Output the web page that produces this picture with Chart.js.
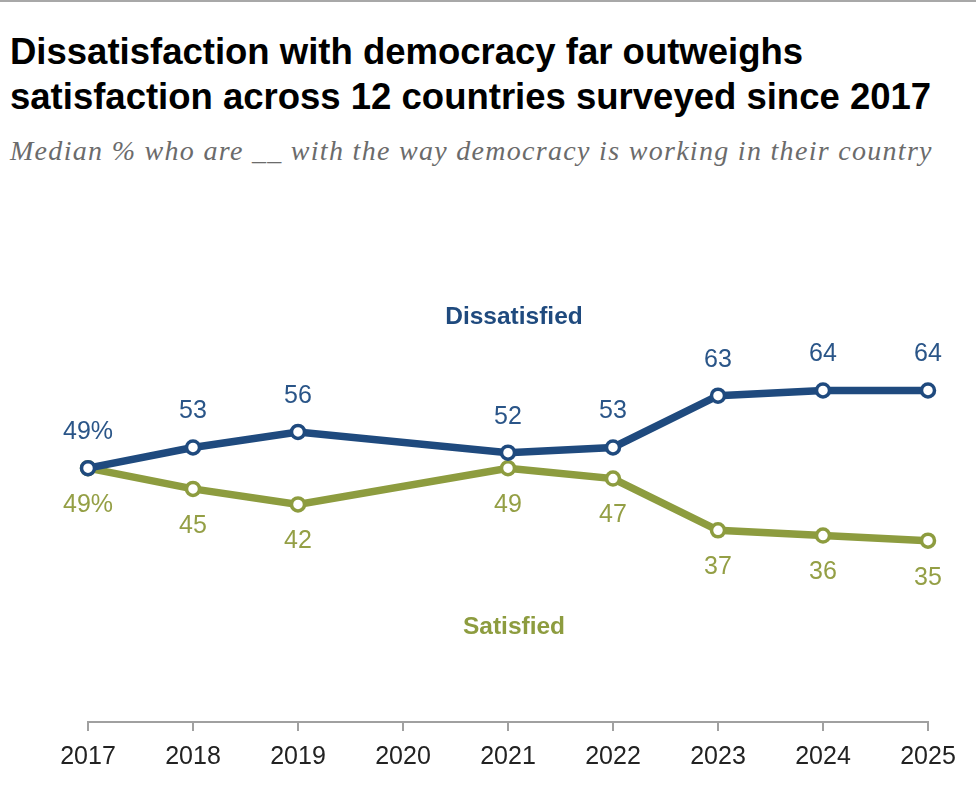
<!DOCTYPE html>
<html>
<head>
<meta charset="utf-8">
<script src="https://cdn.jsdelivr.net/npm/chart.js@4/dist/chart.umd.min.js"></script>
<style>
  html, body { margin: 0; padding: 0; background: #fff; }
  #wrap { position: relative; width: 980px; height: 810px; overflow: hidden; }
  #topline { position: absolute; left: 0; top: 0; width: 976px; height: 2px; background: #a8a8a8; }
  #title { position: absolute; left: 10px; top: 29px; font-family: "Liberation Sans", Arial, sans-serif; font-weight: bold; font-size: 36.5px; line-height: 45px; color: #000; white-space: nowrap; }
  #subtitle { position: absolute; left: 10px; top: 135px; font-family: "Liberation Serif", serif; font-style: italic; font-size: 28px; letter-spacing: 1.3px; color: #6b6b6b; white-space: nowrap; }
  canvas { position: absolute; left: 0; top: 0; }
</style>
</head>
<body>
<div id="wrap">
  <div id="topline"></div>
  <div id="title">Dissatisfaction with democracy far outweighs<br>satisfaction across 12 countries surveyed since 2017</div>
  <div id="subtitle">Median % who are __ with the way democracy is working in their country</div>
  <canvas id="c" width="980" height="810"></canvas>
</div>
<script>
const years = ["2017","2018","2019","2020","2021","2022","2023","2024","2025"];
const dissatisfied = [49, 53, 56, null, 52, 53, 63, 64, 64];
const satisfied = [49, 45, 42, null, 49, 47, 37, 36, 35];
const dissLabels = ["49%","53","56","","52","53","63","64","64"];
const satLabels = ["49%","45","42","","49","47","37","36","35"];

const BLUE = "#1f4a7e";
const GREEN = "#8d9c3f";
const BLUE_TXT = "#2a5588";
const GREEN_TXT = "#949f45";

const labelPlugin = {
  id: "labels",
  afterDatasetsDraw(chart) {
    const ctx = chart.ctx;
    const x = chart.scales.x;
    ctx.save();
    ctx.textAlign = "center";
    ctx.textBaseline = "middle";
    ctx.font = '25px "Liberation Sans", Arial, sans-serif';
    const sets = [[0, dissLabels, -36, BLUE_TXT], [1, satLabels, 37, GREEN_TXT]];
    sets.forEach(([di, labels, off, col]) => {
      const meta = chart.getDatasetMeta(di);
      ctx.fillStyle = col;
      meta.data.forEach((pt, i) => {
        if (!labels[i]) return;
        ctx.fillText(labels[i], pt.x, pt.y + off);
      });
    });
    ctx.font = 'bold 24.5px "Liberation Sans", Arial, sans-serif';
    const xc = x.getPixelForValue(4) + 6;
    ctx.fillStyle = BLUE;
    ctx.fillText("Dissatisfied", xc, 317);
    ctx.fillStyle = GREEN;
    ctx.fillText("Satisfied", xc, 627);
    ctx.restore();
  }
};

new Chart(document.getElementById("c"), {
  type: "line",
  data: {
    labels: years,
    datasets: [
      { data: dissatisfied, borderColor: BLUE, borderWidth: 7.5, pointRadius: 6.5, pointBorderWidth: 3.5,
        pointBackgroundColor: "#fff", pointBorderColor: BLUE, spanGaps: true, tension: 0 },
      { data: satisfied, borderColor: GREEN, borderWidth: 7.5, pointRadius: 6.5, pointBorderWidth: 3.5,
        pointBackgroundColor: "#fff", pointBorderColor: GREEN, spanGaps: true, tension: 0 }
    ]
  },
  options: {
    responsive: false,
    animation: false,
    devicePixelRatio: 1,
    layout: { padding: { left: 88, right: 52, top: 204, bottom: 27 } },
    plugins: { legend: { display: false }, tooltip: { enabled: false }, title: { display: false } },
    scales: {
      x: {
        offset: false,
        grid: { drawOnChartArea: false, drawTicks: true, tickLength: 9, color: "#a0a0a0", lineWidth: 2 },
        border: { display: true, color: "#a0a0a0", width: 2 },
        ticks: { color: "#222", font: { family: '"Liberation Sans", Arial, sans-serif', size: 25 }, padding: 11, maxRotation: 0, autoSkip: false }
      },
      y: { display: false, min: 0, max: 100 }
    }
  },
  plugins: [labelPlugin]
});
</script>
</body>
</html>
